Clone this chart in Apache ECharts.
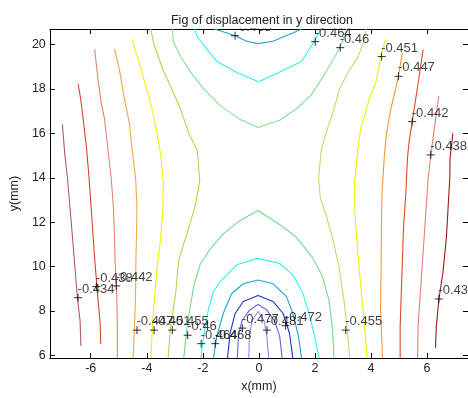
<!DOCTYPE html>
<html>
<head>
<meta charset="utf-8">
<script src="https://cdn.jsdelivr.net/npm/echarts@6/dist/echarts.min.js"></script>
<style>
html, body { margin: 0; padding: 0; background: #fff; }
#chart { width: 468px; height: 398px; }
</style>
</head>
<body>
<div id="chart"></div>
<script>
// axis limits (mm)
const X_MIN = -7.46, X_MAX = 7.46;
const Y_MIN = 5.88, Y_MAX = 20.7;

// contour lines, [x(mm), y(mm)]
const c434L = [[-7.01,16.40],[-6.93,15.11],[-6.83,13.99],[-6.74,12.66],[-6.65,11.32],[-6.58,10.21],[-6.48,8.66],[-6.38,7.55],[-6.35,6.43]];
const c438L = [[-6.45,18.22],[-6.36,17.56],[-6.27,16.66],[-6.15,15.33],[-6.06,14.00],[-5.98,12.57],[-5.90,11.10],[-5.85,10.21],[-5.75,8.66],[-5.67,7.54],[-5.64,6.52]];
const c442L = [[-5.86,19.78],[-5.74,18.44],[-5.62,17.33],[-5.51,16.66],[-5.39,15.33],[-5.27,14.00],[-5.19,12.66],[-5.15,11.33],[-5.13,10.21],[-5.07,8.66],[-5.05,7.32],[-5.05,5.88]];
const c447L = [[-5.15,19.78],[-4.98,18.89],[-4.80,17.56],[-4.62,16.44],[-4.53,15.33],[-4.40,14.00],[-4.35,12.66],[-4.37,11.33],[-4.39,10.21],[-4.40,8.66],[-4.44,7.32],[-4.49,5.88]];
const c451L = [[-4.53,20.22],[-4.33,19.42],[-4.09,18.40],[-3.86,17.37],[-3.68,16.31],[-3.50,15.02],[-3.41,13.77],[-3.43,12.44],[-3.52,11.10],[-3.61,10.21],[-3.72,8.66],[-3.80,7.32],[-3.85,5.88]];
const c455L = [[-3.86,20.70],[-3.74,20.00],[-3.43,18.89],[-3.08,17.91],[-2.80,17.11],[-2.50,16.00],[-2.20,15.24],[-2.11,13.86],[-2.27,12.75],[-2.55,11.55],[-2.86,10.30],[-2.97,8.79],[-3.15,7.32],[-3.24,5.88]];
const c460Top = [[-3.09,20.70],[-3.05,20.13],[-2.80,19.47],[-2.44,18.76],[-1.97,18.00],[-1.38,17.25],[-0.67,16.62],[-0.03,16.26],[0.74,16.59],[1.34,17.11],[1.84,17.69],[2.30,18.58],[2.66,19.34],[2.94,20.00],[3.14,20.70]];
const c464Top = [[-2.29,20.70],[-2.20,20.35],[-1.85,19.78],[-1.50,19.24],[-0.79,18.74],[-0.01,18.32],[0.76,18.78],[1.52,19.24],[1.94,20.07],[2.20,20.70]];
const c468Top = [[-1.59,20.70],[-1.14,20.52],[-0.79,20.36],[-0.44,20.15],[-0.03,20.04],[0.50,20.15],[0.86,20.34],[1.21,20.52],[1.52,20.70]];
const c460Bot = [[-2.68,5.88],[-2.56,7.32],[-2.33,9.10],[-2.09,10.12],[-1.74,10.79],[-1.28,11.46],[-0.67,12.08],[-0.03,12.53],[0.74,11.90],[1.34,11.32],[1.90,10.43],[2.27,9.55],[2.51,8.43],[2.63,7.10],[2.68,5.88]];
const c464Bot = [[-2.07,5.88],[-1.97,6.88],[-1.80,8.08],[-1.62,8.88],[-1.38,9.32],[-0.79,10.08],[-0.03,10.37],[0.74,10.14],[1.21,9.63],[1.56,8.83],[1.80,7.85],[2.01,6.74],[2.15,5.88]];
const c468Bot = [[-1.62,5.88],[-1.50,6.88],[-1.27,7.90],[-0.97,8.79],[-0.56,9.23],[-0.03,9.40],[0.50,9.23],[0.98,8.66],[1.21,7.90],[1.41,6.88],[1.52,5.88]];
const c472 = [[-1.12,5.88],[-1.03,6.99],[-0.85,7.88],[-0.56,8.43],[-0.03,8.70],[0.50,8.43],[0.86,7.90],[1.09,7.01],[1.21,5.88]];
const c477 = [[-0.77,5.88],[-0.73,6.88],[-0.61,7.55],[-0.32,8.06],[-0.03,8.29],[0.27,8.06],[0.56,7.55],[0.74,6.88],[0.83,5.88]];
const c481 = [[-0.36,5.88],[-0.34,6.88],[-0.25,7.55],[-0.03,7.99],[0.19,7.55],[0.28,6.88],[0.35,5.88]];
const c455R = [[3.82,20.70],[3.77,20.22],[3.53,19.42],[3.18,18.75],[2.88,18.00],[2.65,16.98],[2.41,16.08],[2.22,15.19],[2.13,13.99],[2.19,13.10],[2.39,12.35],[2.62,11.33],[2.86,9.99],[3.04,8.43],[3.15,7.19],[3.24,5.88]];
const c451R = [[4.51,20.22],[4.35,19.47],[4.18,18.31],[3.94,17.56],[3.77,16.80],[3.63,16.22],[3.51,15.02],[3.41,13.77],[3.42,12.53],[3.54,10.44],[3.66,8.79],[3.78,7.19],[3.86,5.88]];
const c447R = [[5.12,19.64],[5.00,18.75],[4.88,18.00],[4.71,17.11],[4.55,15.99],[4.47,14.88],[4.39,13.24],[4.37,11.77],[4.36,9.99],[4.34,8.08],[4.41,5.88]];
const c442R = [[5.86,19.78],[5.77,19.02],[5.65,18.00],[5.47,16.53],[5.36,15.64],[5.30,14.88],[5.24,13.24],[5.16,11.77],[5.10,9.55],[5.04,7.32],[5.04,5.88]];
const c438R = [[6.42,17.69],[6.32,16.80],[6.18,15.46],[6.04,14.00],[5.92,11.77],[5.80,9.55],[5.68,7.32],[5.66,5.88]];
const c430R = [[6.92,16.00],[6.82,14.88],[6.81,13.99],[6.69,11.32],[6.57,9.77],[6.42,8.52],[6.33,7.32],[6.30,6.34]];

// clabel markers: [x, y, text]
const labelPoints = [
  [-0.85, 20.40, '-0.468'], [2.01, 20.13, '-0.464'], [2.90, 19.86, '-0.46'],
  [4.38, 19.46, '-0.451'], [4.98, 18.57, '-0.447'], [5.47, 16.53, '-0.442'],
  [6.13, 15.03, '-0.438'], [6.42, 8.54, '-0.43'], [3.10, 7.14, '-0.455'],
  [-6.45, 8.60, '-0.434'], [-5.80, 9.10, '-0.438'], [-5.09, 9.13, '-0.442'],
  [-4.35, 7.14, '-0.447'], [-3.74, 7.14, '-0.451'], [-3.09, 7.14, '-0.455'],
  [-2.54, 6.91, '-0.46'], [-2.06, 6.53, '-0.464'], [-1.56, 6.53, '-0.468'],
  [-0.59, 7.23, '-0.477'], [0.29, 7.14, '-0.481'], [0.95, 7.34, '-0.472']
];

// line colours (one per contour polyline)
const lines = [
  [c434L, '#b45c5a'], [c438L, '#d8412c'], [c442L, '#e8826e'], [c447L, '#f1a648'],
  [c451L, '#f2f200'], [c455L, '#a9dc42'], [c460Top, '#86e09a'], [c464Top, '#2ff0f0'],
  [c468Top, '#1fa6c6'], [c460Bot, '#74d98c'], [c464Bot, '#2ff0f0'], [c468Bot, '#1fa6c6'],
  [c472, '#1a34c8'], [c477, '#6464e2'], [c481, '#8a8af2'],
  [c455R, '#b6e06a'], [c451R, '#f2f200'], [c447R, '#f09a2c'], [c442R, '#e04a28'],
  [c438R, '#e4836f'], [c430R, '#9e1717']
];

const FONT = '"Liberation Sans", Arial, sans-serif';
const chart = echarts.init(document.getElementById('chart'));

const axisBase = {
  type: 'value',
  splitNumber: 7,
  axisLine: { onZero: false, lineStyle: { color: '#000', width: 1 } },
  axisTick: { inside: true, length: 5, lineStyle: { color: '#000' } },
  splitLine: { show: false }
};
const labelBase = { color: '#222', fontSize: 12.5, fontFamily: FONT, showMinLabel: false, showMaxLabel: false };

const series = lines.map(([data, color]) => ({
  type: 'line',
  data: data,
  showSymbol: false,
  symbol: 'none',
  lineStyle: { color: color, width: 1.1 },
  silent: true,
  z: 2
}));

series.push({
  type: 'scatter',
  data: labelPoints.map(p => ({ value: [p[0], p[1]], name: p[2] })),
  symbol: 'path://M0,5L10,5M5,0L5,10',
  symbolSize: 8,
  itemStyle: { color: 'rgba(0,0,0,0)', borderColor: '#000', borderWidth: 1 },
  label: {
    show: true, formatter: '{b}', position: [4, -4], align: 'left', verticalAlign: 'middle',
    color: '#111', fontSize: 13, fontFamily: FONT
  },
  silent: true,
  z: 5
});

chart.setOption({
  animation: false,
  backgroundColor: '#fff',
  title: {
    text: 'Fig of displacement in y direction',
    left: 257, top: 9, textAlign: 'center', z: 60,
    textStyle: { color: '#222', fontSize: 12.5, fontWeight: 'normal', fontFamily: FONT }
  },
  graphic: [{ type: 'rect', shape: { x: 0, y: 0, width: 468, height: 28.5 }, style: { fill: '#fff' }, z: 50, silent: true }],
  grid: { left: 48, top: 29, width: 422, bottom: 36 },
  xAxis: [
    Object.assign({}, axisBase, {
      position: 'bottom', min: X_MIN, max: X_MAX,
      name: 'x(mm)', nameLocation: 'middle', nameGap: 20,
      nameTextStyle: { color: '#222', fontSize: 12.5, fontFamily: FONT },
      axisLabel: Object.assign({ margin: 4 }, labelBase)
    }),
    Object.assign({}, axisBase, { position: 'top', min: X_MIN, max: X_MAX, axisLabel: { show: false } })
  ],
  yAxis: [
    Object.assign({}, axisBase, {
      position: 'left', min: Y_MIN, max: Y_MAX,
      name: 'y(mm)', nameLocation: 'middle', nameGap: 22, nameRotate: 90,
      nameTextStyle: { color: '#222', fontSize: 12.5, fontFamily: FONT },
      axisLabel: Object.assign({ margin: 4 }, labelBase)
    }),
    Object.assign({}, axisBase, { position: 'right', min: Y_MIN, max: Y_MAX, axisLabel: { show: false } })
  ],
  series: series
});
</script>
</body>
</html>
